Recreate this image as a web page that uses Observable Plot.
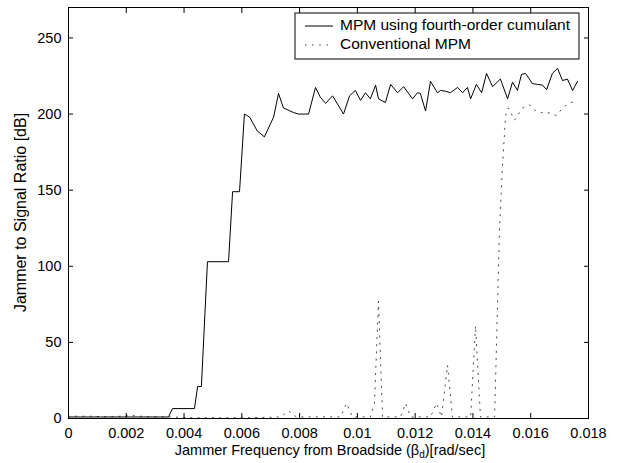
<!DOCTYPE html>
<html><head><meta charset="utf-8">
<script src="https://cdn.jsdelivr.net/npm/d3@7"></script>
<script src="https://cdn.jsdelivr.net/npm/@observablehq/plot@0.6"></script>
<style>
body{margin:0;background:#fff;}
#chart svg{font-family:"Liberation Sans", Arial, sans-serif;}
</style></head><body><div id="chart"></div>
<script>
// Series names
const seriesNames = ["MPM using fourth-order cumulant", "Conventional MPM"];

// MPM using fourth-order cumulant
const cumFreq = [0,0.00111,0.00215,0.00318,0.00346,0.0036,0.00436,0.00447,0.0046,0.00481,0.00554,0.00568,0.00592,0.00609,0.00627,0.00653,0.00678,0.0071,0.00727,0.00744,0.00779,0.00796,0.00831,0.00855,0.00872,0.0089,0.00914,0.00952,0.00973,0.00993,0.01011,0.01028,0.01045,0.01063,0.01073,0.01097,0.01115,0.01139,0.0116,0.01191,0.01208,0.01218,0.01236,0.01253,0.01277,0.01288,0.01305,0.01322,0.01347,0.01364,0.01381,0.01392,0.01412,0.0143,0.01447,0.01468,0.01495,0.0152,0.01537,0.01554,0.01568,0.01582,0.01606,0.01623,0.01641,0.01655,0.01675,0.01693,0.0171,0.01727,0.01745,0.01762];
const cumJSR = [1,1,1,1,1,6.5,6.5,21,21,103,103,149,149,200,198,189,185,198,213.5,204,201,200,200,217.5,211,207,212,200,212,215.5,209,214,210,219,210,207.6,219.5,214,218,210,214,213.5,202,221.5,214,215.5,215,214,217.5,214,217.5,210,219.5,214,226.7,218,223,210,221,215.5,226,226.7,220,219.5,219,216,226.7,230,222,223,215.5,221.5];

// Conventional MPM
const convFreq = [0,0.00076,0.00145,0.00215,0.00284,0.00353,0.00422,0.00526,0.0063,0.00734,0.00762,0.00789,0.00872,0.00942,0.00962,0.00983,0.01045,0.01059,0.01073,0.01087,0.01149,0.01167,0.01184,0.01253,0.01274,0.01291,0.01312,0.01329,0.01392,0.01409,0.01426,0.01475,0.01492,0.01502,0.01513,0.01523,0.01544,0.01572,0.01596,0.01617,0.01637,0.01658,0.01675,0.01689,0.0171,0.01731,0.01762];
const convJSR = [1.5,1.5,1,2,1,1,0.5,0.5,0.5,1,5,1,1,1,10,1,1,10,77,1,1,10,1,1,10,1,35,1,1,61,1,1,125,165,199,204,196,204,206,202,201,201,200,199,204,207,209];

// Axis ticks
const xTicks = [0,0.002,0.004,0.006,0.008,0.01,0.012,0.014,0.016,0.018];
const xTickLabels = ["0","0.002","0.004","0.006","0.008","0.01","0.012","0.014","0.016","0.018"];
const yTicks = [0,50,100,150,200,250];
const yTickLabels = ["0","50","100","150","200","250"];

const cum = cumFreq.map((f, i) => ({f, v: cumJSR[i]}));
const conv = convFreq.map((f, i) => ({f, v: convJSR[i]}));

const W = 619, H = 463, mL = 68, mR = 31, mT = 7, mB = 45;
const FONT = "'Liberation Sans', Arial, Helvetica, sans-serif";
const convDash = "1.2,6";

const chart = Plot.plot({
  width: W, height: H,
  marginLeft: mL, marginRight: mR, marginTop: mT, marginBottom: mB,
  style: {background: "white", fontFamily: FONT, fontSize: "14px", color: "black", overflow: "visible"},
  x: {domain: [0, 0.018]},
  y: {domain: [0, 270]},
  marks: [
    Plot.line(conv, {x: "f", y: "v", stroke: "#333", strokeWidth: 0.9, strokeDasharray: convDash}),
    Plot.line(cum, {x: "f", y: "v", stroke: "black", strokeWidth: 1}),
    Plot.axisX(xTicks, {anchor: "bottom", tickSize: 0, tickPadding: 9, tickFormat: d => xTickLabels[xTicks.indexOf(d)], label: null, fontSize: 14.5}),
    Plot.axisX(xTicks, {anchor: "bottom", tickSize: -5, tickFormat: () => "", label: null}),
    Plot.axisX(xTicks, {anchor: "top", tickSize: -5, tickFormat: () => "", label: null}),
    Plot.axisY(yTicks, {anchor: "left", tickSize: 0, tickPadding: 7, tickFormat: d => yTickLabels[yTicks.indexOf(d)], label: null, fontSize: 14.5}),
    Plot.axisY(yTicks, {anchor: "left", tickSize: -5, tickFormat: () => "", label: null}),
    Plot.axisY(yTicks, {anchor: "right", tickSize: -5, tickFormat: () => "", label: null}),
    Plot.frame({stroke: "black", strokeWidth: 1})
  ]
});
document.getElementById("chart").appendChild(chart);

const svg = d3.select(chart);
// Axis titles
const xl = svg.append("text")
  .attr("x", 330).attr("y", 451)
  .attr("text-anchor", "middle").attr("dominant-baseline", "middle")
  .attr("font-family", FONT).attr("font-size", 14.5).attr("fill", "black");
xl.append("tspan").text("Jammer Frequency from Broadside (β");
xl.append("tspan").attr("font-size", 10).attr("dy", 4).text("d");
xl.append("tspan").attr("dy", -4).text(")[rad/sec]");

svg.append("text")
  .attr("transform", `translate(22,${(mT + H - mB) / 2}) rotate(-90)`)
  .attr("text-anchor", "middle").attr("dominant-baseline", "middle")
  .attr("font-family", FONT).attr("font-size", 16).attr("fill", "black")
  .text("Jammer to Signal Ratio [dB]");

// Legend
const lg = svg.append("g").attr("text-anchor", "start");
lg.append("rect").attr("x", 295).attr("y", 13).attr("width", 284).attr("height", 46)
  .attr("fill", "white").attr("stroke", "black").attr("stroke-width", 1);
const styles = [{dash: null, w: 1}, {dash: convDash, w: 0.9}];
seriesNames.forEach((name, i) => {
  const y = 26 + i * 19;
  const ln = lg.append("line").attr("x1", 305).attr("x2", 333).attr("y1", y).attr("y2", y)
    .attr("stroke", "black").attr("stroke-width", styles[i].w);
  if (styles[i].dash) ln.attr("stroke-dasharray", styles[i].dash);
  lg.append("text").attr("x", 340).attr("y", y).attr("dominant-baseline", "middle")
    .attr("text-anchor", "start")
    .attr("font-family", FONT).attr("font-size", 15.5).attr("fill", "black").text(name);
});
</script></body></html>
